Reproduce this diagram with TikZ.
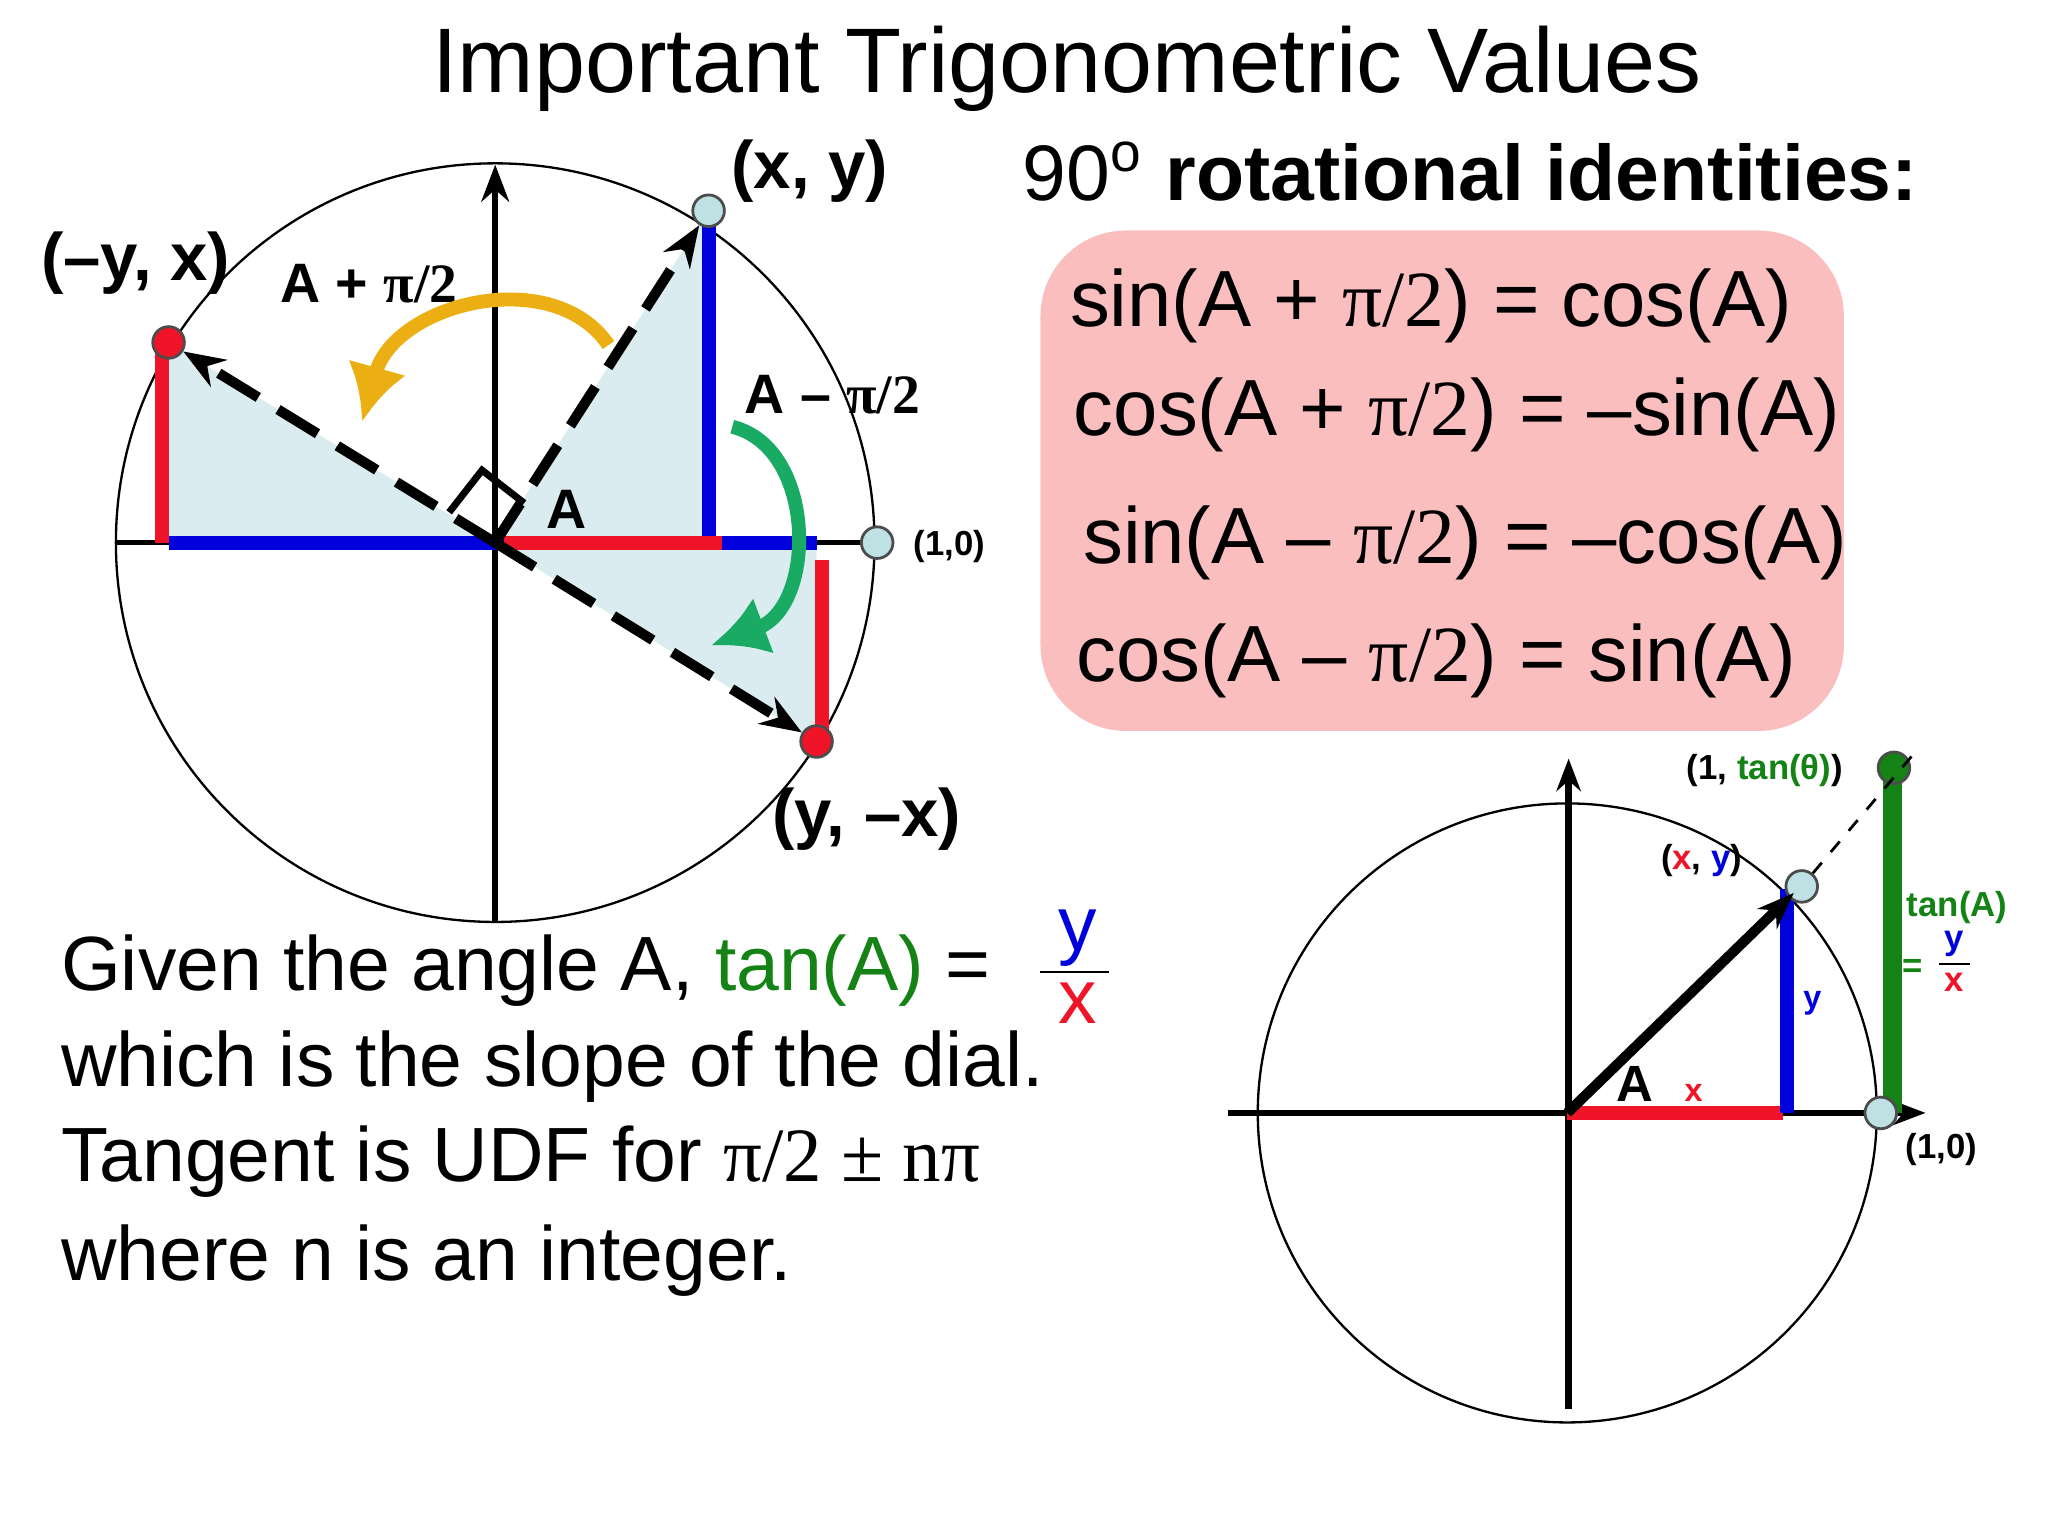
\documentclass[tikz,border=0pt]{standalone}
\usepackage{fontspec}
\setmainfont{Liberation Sans}
\newfontfamily\serif{Liberation Serif}
\usetikzlibrary{arrows.meta}
\definecolor{lb}{RGB}{218,236,240}
\definecolor{dotb}{RGB}{190,225,228}
\definecolor{pinkbox}{RGB}{250,190,190}
\definecolor{gold}{RGB}{235,175,20}
\definecolor{grn}{RGB}{25,170,100}
\definecolor{tg}{RGB}{20,130,20}
\definecolor{bl}{RGB}{0,0,220}
\definecolor{rd}{RGB}{240,20,40}
\newcommand{\px}[1]{\fontsize{#1}{#1}\selectfont}
\begin{document}
\begin{tikzpicture}[x=0.01cm,y=-0.01cm,
  dot/.style={circle,draw=black!70,line width=0.6pt,inner sep=0pt,minimum size=0.24cm},
  dasharrow/.style={line width=2.2pt,dashed,dash pattern=on 10pt off 5pt,-{Stealth[length=9pt]}},
  lbl/.style={font=\bfseries\px{12}},
  eq/.style={anchor=west,font=\px{17.2}},
  txt/.style={anchor=west,font=\px{16.6}}]
\useasboundingbox (0,0) rectangle (1555,1166);
\node at (810,52) {\px{19.8}Important Trigonometric Values};
% left diagram
\coordinate (O) at (376,412);
\fill[lb] (O)--(538,412)--(538,160)--cycle;
\fill[lb] (O)--(128,412)--(128,260)--cycle;
\fill[lb] (O)--(620,412)--(620,563)--cycle;
\draw[line width=0.5pt] (O) circle (288);
\draw[line width=1.2pt] (88,412)--(662,412);
\draw[line width=1.2pt,-{Stealth[length=8pt]}] (376,700)--(376,125);
\draw[bl,line width=3pt] (128,412)--(620,412);
\draw[bl,line width=3pt] (538,412)--(538,165);
\draw[rd,line width=3pt] (383,412)--(548,412);
\draw[rd,line width=3pt] (123,412)--(123,262);
\draw[rd,line width=3pt] (624,425)--(624,563);
\draw[line width=1.5pt] (341,389)--(366,357)--(398,382);
\node[dot,fill=dotb] (p1) at (538,160) {};
\node[dot,fill=rd] (p2) at (128,260) {};
\node[dot,fill=rd] (p3) at (620,563) {};
\node[dot,fill=dotb] (p0) at (666,412) {};
\draw[dasharrow] (O)--(p1);
\draw[dasharrow] (O)--(p2);
\draw[dasharrow] (O)--(p3);
\node[font=\bfseries\px{14.5}] at (615,130) {(x, y)};
\node[font=\bfseries\px{14.5}] at (103,200) {(–y, x)};
\node[font=\bfseries\px{14.5}] at (658,622) {(y, –x)};
\node[font=\bfseries\px{7.5}] at (721,415) {(1,0)};
\node[lbl] at (280,215) {A + {\serif π/2}};
\node[lbl] at (632,300) {A – {\serif π/2}};
\node[font=\bfseries\px{12}] at (430,387) {A};
\draw[gold,line width=3pt,-{Latex[length=12pt,width=13pt]}] (462,262) .. controls (420,200) and (300,230) .. (275,320);
\draw[grn,line width=3pt,-{Latex[length=12pt,width=13pt]}] (556,324) .. controls (620,340) and (620,460) .. (540,490);
% identities
\node[anchor=west,inner sep=0pt] at (776,130) {\px{17}90\textsuperscript{o} \textbf{rotational identities:}};
\fill[pinkbox,rounded corners=0.65cm] (790,175) rectangle (1400,555);
\node[eq] at (800,232) {sin(A + {\serif π/2}) = cos(A)};
\node[eq] at (803,315) {cos(A + {\serif π/2}) = –sin(A)};
\node[eq] at (810,412) {sin(A – {\serif π/2}) = –cos(A)};
\node[eq] at (805,502) {cos(A – {\serif π/2}) = sin(A)};
% text
\node[txt] at (34,737) {Given the angle A, \textcolor{tg}{tan(A)} = };
\node[font=\px{16.6},bl] at (818,712) {y};
\draw (790,738)--(842,738);
\node[font=\px{16.6},rd] at (818,762) {x};
\node[txt] at (34,810) {which is the slope of the dial.};
\node[txt] at (34,882) {Tangent is UDF for {\serif π/2 ± nπ}};
\node[txt] at (34,957) {where n is an integer.};
% right diagram
\coordinate (C) at (1190,845);
\draw[line width=0.5pt] (C) circle (235);
\draw[line width=1.4pt,-{Stealth[length=7pt]}] (932,845)--(1462,845);
\draw[line width=1.4pt,-{Stealth[length=7pt]}] (1191,1070)--(1191,576);
\draw[rd,line width=3pt] (1190,845)--(1354,845);
\draw[bl,line width=3pt] (1357,845)--(1357,675);
\draw[tg,line width=4pt] (1437,845)--(1437,585);
\node[dot,fill=dotb] (q1) at (1368,673) {};
\node[dot,fill=tg] (q2) at (1438,583) {};
\node[dot,fill=dotb] (q0) at (1428,845) {};
\coordinate (qe) at (1455,570);
\draw[line width=2.2pt,-{Stealth[length=8pt]}] (C)--(1362,678);
\draw[dashed,line width=0.6pt] (q1)--(qe);
\node[font=\bfseries\px{7.5}] at (1340,585) {(1, \textcolor{tg}{tan(θ)})};
\node[font=\bfseries\px{7.5}] at (1292,653) {(\textcolor{rd}{x}, \textcolor{bl}{y})};
\node[font=\bfseries\px{7.5},tg] at (1486,689) {tan(A)};
\node[font=\bfseries\px{7.5},tg] at (1452,735) {=};
\node[font=\bfseries\px{7.5},bl] at (1484,717) {y};
\draw[line width=0.5pt] (1472,732)--(1496,732);
\node[font=\bfseries\px{7.5},rd] at (1484,746) {x};
\node[font=\bfseries\px{7},bl] at (1376,762) {y};
\node[font=\bfseries\px{7},rd] at (1286,830) {x};
\node[font=\bfseries\px{11}] at (1241,823) {A};
\node[font=\bfseries\px{7.5}] at (1474,873) {(1,0)};
\end{tikzpicture}
\end{document}
